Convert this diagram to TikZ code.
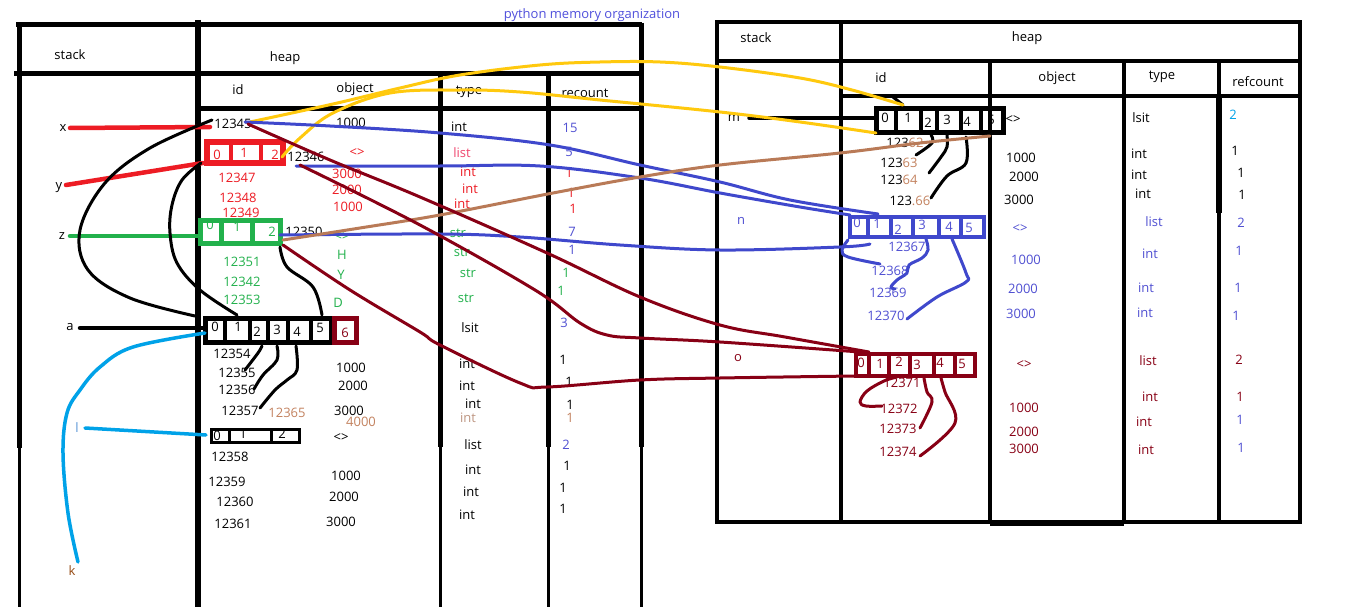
\documentclass[tikz,border=0pt]{standalone}
\usepackage{fontspec}
\setmainfont{Open Sans}
\definecolor{pred}{RGB}{237,28,36}
\definecolor{pdred}{RGB}{136,0,21}
\definecolor{pgreen}{RGB}{34,177,76}
\definecolor{pblue}{RGB}{63,72,204}
\definecolor{pyellow}{RGB}{255,201,14}
\definecolor{pbrown}{RGB}{185,122,87}
\definecolor{pcyan}{RGB}{0,162,232}
\definecolor{ttitle}{RGB}{80,80,220}
\definecolor{tblue}{RGB}{80,80,210}
\definecolor{tpink}{RGB}{240,70,110}
\definecolor{tbrown}{RGB}{195,130,95}
\definecolor{tlbrown}{RGB}{190,150,130}
\definecolor{tk}{RGB}{150,75,20}
\definecolor{tl}{RGB}{90,150,215}
\newcommand\lbl{\fontsize{13}{15}\selectfont}
\newcounter{tn}
\newcommand\T[4][black]{\stepcounter{tn}\node[lab,text=#1] (t\thetn) at (#2,#3) {#4};}
\tikzset{
  lab/.style={font=\lbl, inner sep=0pt},
  tbl/.style={line width=5pt},
  tbt/.style={line width=3pt},
  rtb/.style={line width=3.5pt},
  con/.style={line width=3.5pt, line cap=round, line join=round},
  thc/.style={line width=3pt, line cap=round, line join=round},
}
\begin{document}
\begin{tikzpicture}[x=1pt,y=-1pt]
\useasboundingbox[fill=white] (0,0) rectangle (1360,607);
% ---------------- left table
\draw[tbl] (16,25) -- (642,25);
\draw[tbl] (14,74) -- (642,74);
\draw[tbl] (200,109) -- (644,109);
\draw[tbl] (19,25) -- (19,448); \draw[tbt] (19,448) -- (19,607);
\draw[line width=6pt] (198,20) -- (198,607);
\draw[tbl] (440,74) -- (440,447); \draw[tbt] (440,447) -- (440,607);
\draw[tbl] (548,76) -- (548,447); \draw[tbt] (548,447) -- (548,607);
\draw[tbl] (641,23) -- (641,447); \draw[tbt] (641,447) -- (641,607);
% ---------------- right table
\draw[rtb] (717,22) rectangle (1300,522);
\draw[rtb] (717,61) -- (1300,61);
\draw[rtb] (841,22) -- (841,524);
\draw[rtb] (841,96) -- (1300,96);
\draw[rtb] (990,61) -- (990,523);
\draw[rtb] (1124,61) -- (1124,523);
\draw[rtb] (1219,61) -- (1219,523);
\draw[line width=6pt] (1219,96) -- (1219,213);
\draw[line width=6pt] (990,523) -- (1124,523);
% ---------------- titles and headers
\T[ttitle]{592}{15}{python memory organization}
\T{70}{55}{stack}
\T{285}{58}{heap}
\T{238}{90}{id}
\T{355}{89}{object}
\T{469}{92}{type}
\T{585}{93}{recount}
\T{756}{38}{stack}
\T{1027}{38}{heap}
\T{881}{78}{id}
\T{1057}{78}{object}
\T{1162}{77}{type}
\T{1258}{82}{refcount}
% ---------------- stack labels
\node[lab] (sx) at (63,128) {x};
\node[lab] (sy) at (59,188) {y};
\node[lab] (sz) at (62,236) {z};
\node[lab] (sa) at (70,327) {a};
\node[lab,text=tl] (sl) at (77,428) {l};
\node[lab,text=tk] (sk) at (72,571) {k};
\node[lab] (sm) at (734,118) {m};
\node[lab,text=tblue] (sn) at (741,221) {n};
\node[lab,text=pdred] (so) at (738,358) {o};
% ---------------- left heap texts
\T{233}{124}{12345}
\T{351}{123}{1000}
\T{459}{127}{int}
\T[tblue]{570}{128}{15}
\T{306}{157}{12346}
\T[pred]{357}{153}{<>}
\T[tpink]{462}{153}{list}
\T[tblue]{569}{152}{5}
\T[pred]{237}{178}{12347}
\T[pred]{238}{198}{12348}
\T[pred]{241}{213}{12349}
\T[pred]{347}{174}{3000}
\T[pred]{347}{190}{2000}
\T[pred]{348}{207}{1000}
\T[pred]{468}{172}{int}
\T[pred]{470}{189}{int}
\T[pred]{462}{204}{int}
\T[pred]{569}{173}{1}
\T[pred]{571}{193}{1}
\T[pred]{573}{209}{1}
\T{304}{232}{12350}
\T[pgreen]{342}{237}{<>}
\T[pgreen]{342}{255}{H}
\T[pgreen]{341}{275}{Y}
\T[pgreen]{338}{303}{D}
\T[pgreen]{242}{262}{12351}
\T[pgreen]{242}{282}{12342}
\T[pgreen]{242}{300}{12353}
\T[pgreen]{458}{233}{str}
\T[pgreen]{462}{252}{str}
\T[pgreen]{468}{273}{str}
\T[pgreen]{466}{298}{str}
\T[tblue]{572}{232}{7}
\T[tblue]{572}{250}{1}
\T[pgreen]{566}{273}{1}
\T[pgreen]{561}{291}{1}
\T{470}{328}{lsit}
\T[tblue]{564}{323}{3}
\T{232}{354}{12354}
\T{237}{373}{12355}
\T{237}{390}{12356}
\T{240}{411}{12357}
\T[tbrown]{287}{413}{12365}
\T{351}{368}{1000}
\T{353}{386}{2000}
\T{349}{411}{3000}
\T[tbrown]{361}{422}{4000}
\T{467}{364}{int}
\T{467}{386}{int}
\T{473}{404}{int}
\T[tlbrown]{468}{418}{int}
\T{563}{360}{1}
\T{569}{382}{1}
\T{570}{405}{1}
\T[tbrown]{570}{418}{1}
\T{341}{438}{<>}
\T{230}{457}{12358}
\T{227}{482}{12359}
\T{235}{502}{12360}
\T{233}{524}{12361}
\T{346}{476}{1000}
\T{344}{497}{2000}
\T{341}{522}{3000}
\T{473}{445}{list}
\T{473}{470}{int}
\T{471}{492}{int}
\T{467}{515}{int}
\T[tblue]{566}{445}{2}
\T{567}{466}{1}
\T{563}{488}{1}
\T{563}{509}{1}
% ---------------- right heap texts
\T{1013}{120}{<>}
\T{905}{143}{123\textcolor{tbrown}{62}}
\T{899}{163}{123\textcolor{tbrown}{63}}
\T{899}{180}{123\textcolor{tbrown}{64}}
\T{910}{201}{123\textcolor{tbrown}{.66}}
\T{1021}{158}{1000}
\T{1024}{177}{2000}
\T{1019}{200}{3000}
\T{1141}{118}{lsit}
\T{1139}{154}{int}
\T{1139}{175}{int}
\T{1143}{194}{int}
\T[pcyan]{1233}{115}{2}
\T{1235}{151}{1}
\T{1241}{173}{1}
\T{1242}{195}{1}
\T[tblue]{1020}{229}{<>}
\T[tblue]{907}{247}{12367}
\T[tblue]{890}{271}{12368}
\T[tblue]{888}{293}{12369}
\T[tblue]{886}{316}{12370}
\T[tblue]{1026}{260}{1000}
\T[tblue]{1023}{289}{2000}
\T[tblue]{1021}{314}{3000}
\T[tblue]{1154}{222}{list}
\T[tblue]{1150}{254}{int}
\T[tblue]{1146}{288}{int}
\T[tblue]{1145}{313}{int}
\T[tblue]{1241}{223}{2}
\T[tblue]{1239}{251}{1}
\T[tblue]{1238}{288}{1}
\T[tblue]{1236}{316}{1}
\T[pdred]{1024}{365}{<>}
\T[pdred]{1148}{361}{list}
\T[pdred]{1239}{360}{2}
\T[pdred]{902}{383}{12371}
\T[pdred]{899}{409}{12372}
\T[pdred]{898}{429}{12373}
\T[pdred]{898}{452}{12374}
\T[pdred]{1024}{408}{1000}
\T[pdred]{1024}{432}{2000}
\T[pdred]{1024}{449}{3000}
\T[pdred]{1150}{397}{int}
\T[pdred]{1144}{422}{int}
\T[pdred]{1146}{450}{int}
\T[pdred]{1240}{397}{1}
\T[tblue]{1240}{420}{1}
\T[tblue]{1241}{448}{1}
% ---------------- list boxes (left)
% y : red
\draw[pred,line width=6pt] (207,142) rectangle (283,163);
\draw[pred,line width=4pt] (231,142) -- (231,163) (261,142) -- (261,163);
\T[pred]{217}{155}{0}\T[pred]{244}{153}{1}\T[pred]{275}{155}{2}
\coordinate (yb-w) at (203,163);
\coordinate (yb-c2) at (282,157);
\coordinate (yb-e) at (296,166);
% z : green
\draw[pgreen,line width=5pt] (200.5,220.5) rectangle (280,243);
\draw[pgreen,line width=5pt] (221,220.5) -- (221,243) (252,220.5) -- (252,243);
\T[pgreen]{210}{225}{0}\T[pgreen]{237}{227}{1}\T[pgreen]{272}{232}{2}
\coordinate (zb-w) at (200,236);
\coordinate (zb-e) at (283,240);
% a : black + dark red cell
\draw[line width=5pt] (205.5,318.5) rectangle (331,342.5);
\foreach \d in {225,250,268,288,311} \draw[line width=4.5pt] (\d,318.5) -- (\d,342.5);
\draw[pdred,line width=5pt] (334.5,318.5) rectangle (356,342.5);
\T{215}{327}{0}\T{238}{327}{1}\T{257}{332}{2}\T{277}{330}{3}\T{297}{332}{4}\T{320}{328}{5}
\T[pdred]{345}{333}{6}
\coordinate (ab-w) at (204,328);
% l : black
\draw[line width=3.5pt] (211.5,429.5) rectangle (299.5,442.5);
\draw[line width=3pt] (229,429.5) -- (229,442.5) (271,429.5) -- (271,442.5);
\T{217}{436}{0}\T{243}{434}{1}\T{282}{434}{2}
\coordinate (lb-w) at (206,435);
% ---------------- list boxes (right)
\draw[line width=5pt] (876.5,108.5) rectangle (1003,132.5);
\foreach \d in {896,921,937,961,981} \draw[line width=4pt] (\d,108.5) -- (\d,132.5);
\T{885}{118}{0}\T{908}{118}{1}\T{928}{123}{2}\T{947}{120}{3}\T{967}{122}{4}\T{991}{120}{5}
\draw[pblue,line width=4pt] (850,217) rectangle (984,237);
\foreach \d in {868,891,913,939,961} \draw[pblue,line width=3.5pt] (\d,217) -- (\d,237);
\T[tblue]{857}{223}{0}\T[tblue]{877}{224}{1}\T[tblue]{898}{230}{2}\T[tblue]{922}{225}{3}\T[tblue]{949}{227}{4}\T[tblue]{969}{228}{5}
\draw[pdred,line width=4pt] (856,354) rectangle (975,376);
\foreach \d in {869,889,910,934,955} \draw[pdred,line width=3.5pt] (\d,354) -- (\d,376);
\T[pdred]{861}{363}{0}\T[pdred]{880}{364}{1}\T[pdred]{899}{362}{2}\T[pdred]{917}{365}{3}\T[pdred]{940}{363}{4}\T[pdred]{962}{364}{5}
% ---------------- stack connectors
\draw[con,pred,line width=4.5pt] (70,128) -- (210,127);
\draw[con,pred,line width=4.5pt] (66,185) -- (yb-w);
\draw[con,pgreen,line width=4.5pt] (70,236) -- (zb-w);
\draw[con,line width=4.5pt] (80,328) -- (ab-w);
\draw[con,pcyan] (85,428) -- (lb-w);
\draw[con,pcyan] plot[smooth,tension=0.6] coordinates {(78,562) (68,513) (63,453) (67,413) (80,390) (100,367) (133,347) (205,333)};
\draw[con,line width=4.5pt,line cap=round] (766,118) -- (875,118);
\draw[con] (749,118) -- (770,118);
% ---------------- internal black curves (left)
\draw[thc] plot[smooth,tension=0.6] coordinates {(212,120) (150,148) (105,183) (80,230) (88,270) (130,298) (195,316)};
\draw[thc] plot[smooth,tension=0.6] coordinates {(201,163) (182,180) (172,205) (170,233) (177,263) (200,290) (237,315)};
\draw[thc] plot[smooth,tension=0.6] coordinates {(280,247) (287,267) (313,287) (322,315)};
\draw[thc] plot[smooth,tension=0.6] coordinates {(262,346) (258,353) (245,370)};
\draw[thc] plot[smooth,tension=0.6] coordinates {(277,346) (277,360) (263,375) (254,389)};
\draw[thc] plot[smooth,tension=0.6] coordinates {(296,346) (297,370) (287,380) (275,390) (260,408)};
% ---------------- internal curves (right)
\draw[thc] plot[smooth,tension=0.6] coordinates {(931,135) (932,143) (916,155)};
\draw[thc] plot[smooth,tension=0.6] coordinates {(947,135) (947,147) (941,157) (929,173)};
\draw[thc] plot[smooth,tension=0.6] coordinates {(966,137) (966,163) (947,176) (931,198)};
\draw[thc] (893,97) -- (903,105);
\draw[thc,pblue] plot[smooth,tension=0.6] coordinates {(848,240) (842,250) (848,257) (880,264)};
\draw[thc,pblue] plot[smooth,tension=0.6] coordinates {(926,239) (928,250) (922,258) (909,265) (907,273) (897,280) (891,287) (895,289)};
\draw[thc,pblue] plot[smooth,tension=0.6] coordinates {(952,239) (966,273) (966,282) (937,297) (907,319)};
\draw[thc,pdred] plot[smooth,tension=0.6] coordinates {(897,377) (884,381) (867,391) (860,402) (866,406) (882,406)};
\draw[thc,pdred] plot[smooth,tension=0.6] coordinates {(924,378) (927,392) (932,402) (920,428)};
\draw[thc,pdred] plot[smooth,tension=0.6] coordinates {(941,378) (945,392) (955,423) (920,456)};
% ---------------- long connectors
\draw[thc,pyellow] plot[smooth,tension=0.6] coordinates {(250,122) (333,104) (400,88) (460,75) (540,65) (600,62) (660,62) (720,67) (800,78) (852,90) (903,105)};
\draw[thc,pyellow] plot[smooth,tension=0.6] coordinates {(yb-c2) (300,138) (333,113) (390,93) (460,90) (520,92) (600,100) (720,112) (800,122) (876,133)};
\draw[thc,pblue] plot[smooth,tension=0.6] coordinates {(245,122) (330,126) (440,133) (550,145) (640,165) (720,182) (790,200) (878,214)};
\draw[thc,pblue] plot[smooth,tension=0.6] coordinates {(yb-e) (440,166) (540,166) (640,178) (720,193) (800,207) (850,215)};
\draw[thc,pblue] plot[smooth,tension=0.6] coordinates {(280,235) (440,234) (520,237) (620,245) (720,250) (840,247) (870,244)};
\draw[thc,pbrown] plot[smooth,tension=0.6] coordinates {(zb-e) (360,228) (440,215) (553,193) (640,177) (720,165) (840,153) (920,143) (990,136)};
\draw[thc,pdred] plot[smooth,tension=0.6] coordinates {(248,124) (330,160) (420,197) (547,253) (640,297) (720,325) (785,337) (869,352)};
\draw[thc,pdred] plot[smooth,tension=0.6] coordinates {(300,165) (420,225) (535,290) (580,323) (607,335) (640,338) (720,342) (860,352)};
\draw[thc,pdred] plot[smooth,tension=0.6] coordinates {(283,245) (350,290) (420,332) (440,345) (520,383) (547,387) (640,380) (720,378) (854,376)};
\end{tikzpicture}
\end{document}
